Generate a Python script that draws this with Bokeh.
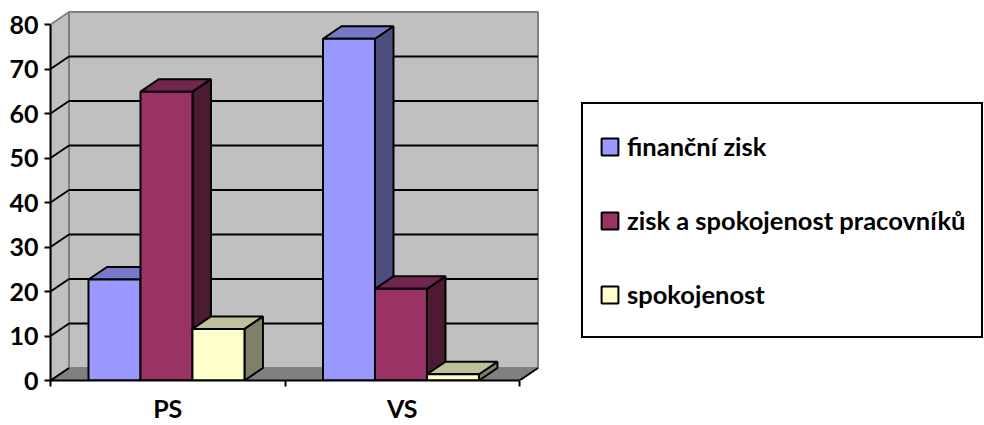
from bokeh.plotting import figure
from bokeh.models import Range1d, FixedTicker, Legend, LegendItem
from bokeh.embed import file_html
from bokeh.resources import INLINE

# ---- data ----
categories = ["PS", "VS"]
series_names = ["finanční zisk", "zisk a spokojenost pracovníků", "spokojenost"]
financni_zisk = [22.7, 76.8]
zisk_a_spokojenost = [64.9, 20.6]
spokojenost = [11.6, 1.4]
y_ticks = [0, 10, 20, 30, 40, 50, 60, 70, 80]

series_values = [financni_zisk, zisk_a_spokojenost, spokojenost]
front_colors = ["#9999FF", "#993366", "#FFFFCC"]
top_colors = ["#7878C8", "#73264D", "#C0C09A"]
side_colors = ["#4D4D80", "#4D1A33", "#80806A"]

# ---- geometry ----
W, H = 984, 425
frame_left = 50
frame_top = 5
frame_bottom = 380
px_per_cat = 234.5
px_per_unit = 4.45
x_end = (W - frame_left) / px_per_cat
y_end = (frame_bottom - frame_top) / px_per_unit
DX = 18.5 / px_per_cat
DY = 12.5 / px_per_unit
bar_w = 0.2217
gap = 0.162
n_cat = len(categories)
y_max = y_ticks[-1]
FONT = "Lato"

p = figure(width=W, height=H, x_range=Range1d(0, x_end), y_range=Range1d(0, y_end),
           output_backend="svg", toolbar_location=None,
           min_border_left=frame_left, min_border_top=frame_top,
           min_border_bottom=H - frame_bottom, min_border_right=0,
           outline_line_color=None, background_fill_color="white",
           border_fill_color="white")
p.xgrid.visible = False
p.ygrid.visible = False

# walls and floor
p.patch([DX, n_cat + DX, n_cat + DX, DX], [DY, DY, y_max + DY, y_max + DY],
        fill_color="#C0C0C0", line_color="#808080", line_width=2)
p.patch([0, DX, DX, 0], [0, DY, y_max + DY, y_max],
        fill_color="#C0C0C0", line_color="#808080", line_width=2)
p.patch([0, n_cat, n_cat + DX, DX], [0, 0, DY, DY],
        fill_color="#808080", line_color="#808080", line_width=1)

inner = y_ticks[1:-1]
p.segment(x0=[DX] * len(inner), y0=[t + DY for t in inner],
          x1=[n_cat + DX] * len(inner), y1=[t + DY for t in inner],
          line_color="black", line_width=2)
diag = y_ticks[:-1]
p.segment(x0=[0] * len(diag), y0=diag, x1=[DX] * len(diag), y1=[t + DY for t in diag],
          line_color="black", line_width=2)
p.segment(x0=[n_cat], y0=[0], x1=[n_cat + DX], y1=[DY], line_color="black", line_width=2)

# bars
front_renderers = []
for s, vals in enumerate(series_values):
    lefts = [c + gap + s * bar_w for c in range(n_cat)]
    side_xs = [[x + bar_w, x + bar_w + DX, x + bar_w + DX, x + bar_w] for x in lefts]
    side_ys = [[0, DY, v + DY, v] for v in vals]
    top_xs = [[x, x + bar_w, x + bar_w + DX, x + DX] for x in lefts]
    top_ys = [[v, v, v + DY, v + DY] for v in vals]
    p.patches(side_xs, side_ys, fill_color=side_colors[s], line_color="black", line_width=2)
    p.patches(top_xs, top_ys, fill_color=top_colors[s], line_color="black", line_width=2)
    r = p.vbar(x=[x + bar_w / 2 for x in lefts], width=bar_w, top=vals, bottom=0,
               fill_color=front_colors[s], line_color="black", line_width=2)
    front_renderers.append(r)

# axes
yax = p.yaxis[0]
yax.ticker = FixedTicker(ticks=y_ticks, minor_ticks=[])
yax.bounds = (0, y_max)
yax.axis_line_color = "black"
yax.axis_line_width = 2
yax.major_tick_line_color = "black"
yax.major_tick_line_width = 2
yax.major_tick_out = 6
yax.major_tick_in = 0
yax.minor_tick_line_color = None
yax.major_label_standoff = 6
yax.major_label_text_font = FONT
yax.major_label_text_font_style = "bold"
yax.major_label_text_font_size = "25px"
yax.major_label_text_color = "black"

xax = p.xaxis[0]
xax.ticker = FixedTicker(ticks=[c + 0.5 for c in range(n_cat)],
                         minor_ticks=list(range(n_cat + 1)))
xax.major_label_overrides = {c + 0.5: name for c, name in enumerate(categories)}
xax.bounds = (0, n_cat)
xax.axis_line_color = "black"
xax.axis_line_width = 2
xax.major_tick_line_color = None
xax.major_tick_out = 0
xax.major_tick_in = 0
xax.minor_tick_line_color = "black"
xax.minor_tick_line_width = 2
xax.minor_tick_out = 6
xax.minor_tick_in = 0
xax.major_label_standoff = 6
xax.major_label_text_font = FONT
xax.major_label_text_font_style = "bold"
xax.major_label_text_font_size = "25px"
xax.major_label_text_color = "black"

legend = Legend(
    items=[LegendItem(label=n, renderers=[r]) for n, r in zip(series_names, front_renderers)],
    location=(531, 42), orientation="vertical",
    glyph_width=21, glyph_height=21, label_height=52, label_standoff=7,
    spacing=22, padding=16, margin=0,
    border_line_color="black", border_line_width=2, border_line_alpha=1,
    background_fill_color="white", background_fill_alpha=1,
    label_text_font=FONT, label_text_font_style="bold",
    label_text_font_size="25.5px", label_text_color="black",
)
p.add_layout(legend)

open("out.html", "w").write(file_html(p, INLINE))
